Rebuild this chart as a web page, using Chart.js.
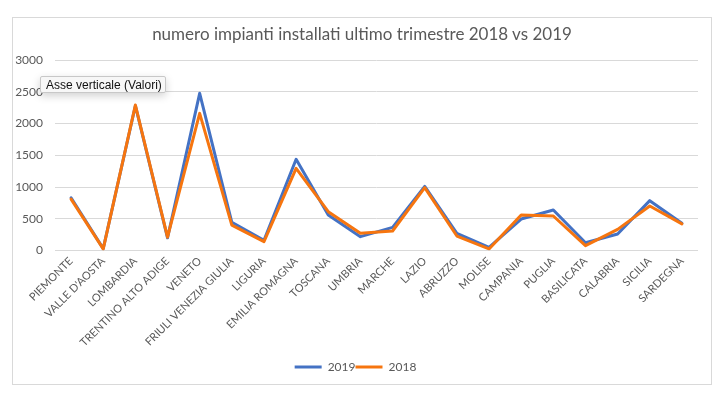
<!DOCTYPE html>
<html><head><meta charset="utf-8">
<script src="https://cdn.jsdelivr.net/npm/chart.js@4"></script>
<style>
html,body{margin:0;padding:0;background:#fff;width:724px;height:397px;overflow:hidden;}
#box{position:absolute;left:12px;top:17px;width:700px;height:368px;border:1px solid #d9d9d9;box-sizing:border-box;}
#wrap{position:absolute;left:13px;top:18px;width:698px;height:366px;}
#title{position:absolute;left:12px;width:700px;top:23px;height:20px;line-height:20px;text-align:center;font:17px Lato,sans-serif;color:#595959;white-space:nowrap;}
#tip{position:absolute;left:40px;top:76px;width:126px;height:17px;background:#f7f7f7;border:1px solid #c8c8c8;border-radius:2px;box-shadow:0 3px 8px rgba(0,0,0,0.18);font:12px "Liberation Sans",Arial,sans-serif;color:#111;line-height:17px;padding-left:5px;box-sizing:border-box;white-space:nowrap;}
</style></head>
<body>
<div id="box"></div>
<div id="wrap"><canvas id="c"></canvas></div>
<div id="title"></div>
<div id="tip">Asse verticale (Valori)</div>
<script>
const categories = ["PIEMONTE","VALLE D'AOSTA","LOMBARDIA","TRENTINO ALTO ADIGE","VENETO","FRIULI VENEZIA GIULIA","LIGURIA","EMILIA ROMAGNA","TOSCANA","UMBRIA","MARCHE","LAZIO","ABRUZZO","MOLISE","CAMPANIA","PUGLIA","BASILICATA","CALABRIA","SICILIA","SARDEGNA"];
const values2019 = [830, 30, 2280, 200, 2475, 444, 160, 1436, 559, 218, 365, 1010, 270, 50, 496, 638, 123, 260, 785, 428];
const values2018 = [810, 25, 2290, 210, 2160, 400, 140, 1294, 611, 270, 307, 990, 228, 24, 559, 543, 76, 333, 700, 420];
const yTicks = [0, 500, 1000, 1500, 2000, 2500, 3000];
const titleText = "numero impianti installati ultimo trimestre 2018 vs 2019";

document.getElementById('title').textContent = titleText;
const gray = '#595959';
new Chart(document.getElementById('c'), {
  type: 'line',
  data: {
    labels: categories,
    datasets: [
      {label:'2019', data: values2019, borderColor:'#4472C4', backgroundColor:'#4472C4', borderWidth:3, pointRadius:0, tension:0, order:2, borderJoinStyle:'round', borderCapStyle:'round'},
      {label:'2018', data: values2018, borderColor:'#F6750F', backgroundColor:'#F6750F', borderWidth:3, pointRadius:0, tension:0, order:1, borderJoinStyle:'round', borderCapStyle:'round'}
    ]
  },
  options: {
    responsive:true, maintainAspectRatio:false, animation:false,
    layout:{padding:{left:0,right:13,top:42,bottom:1}},
    plugins:{
      tooltip:{enabled:false},
      title:{display:false},
      legend:{position:'bottom', labels:{
        color:gray, font:{family:'Lato', size:12}, boxWidth:27, boxHeight:3, padding:0,
        sort:(a,b)=>a.datasetIndex-b.datasetIndex,
        generateLabels:(chart)=>chart.data.datasets.map((d,i)=>({text:d.label, fillStyle:d.borderColor, strokeStyle:d.borderColor, lineWidth:0, datasetIndex:i, hidden:false, fontColor:gray}))
      }}
    },
    scales:{
      x:{
        offset:true,
        grid:{display:false, drawTicks:false, offset:true},
        border:{display:false},
        ticks:{color:gray, font:{family:'Lato', size:11}, maxRotation:45, minRotation:45, autoSkip:false, padding:4},
        afterFit:(s)=>{s.height=110.5;}
      },
      y:{
        min:0, max:3000,
        afterBuildTicks:(s)=>{s.ticks = yTicks.map(v=>({value:v}));},
        grid:{color:'#d9d9d9', drawTicks:false, lineWidth:1},
        border:{display:false},
        ticks:{color:gray, font:{family:'Lato', size:12}, padding:12, callback:(v)=>String(v)},
        afterFit:(s)=>{s.width=42;}
      }
    }
  }
});
</script>
</body></html>
